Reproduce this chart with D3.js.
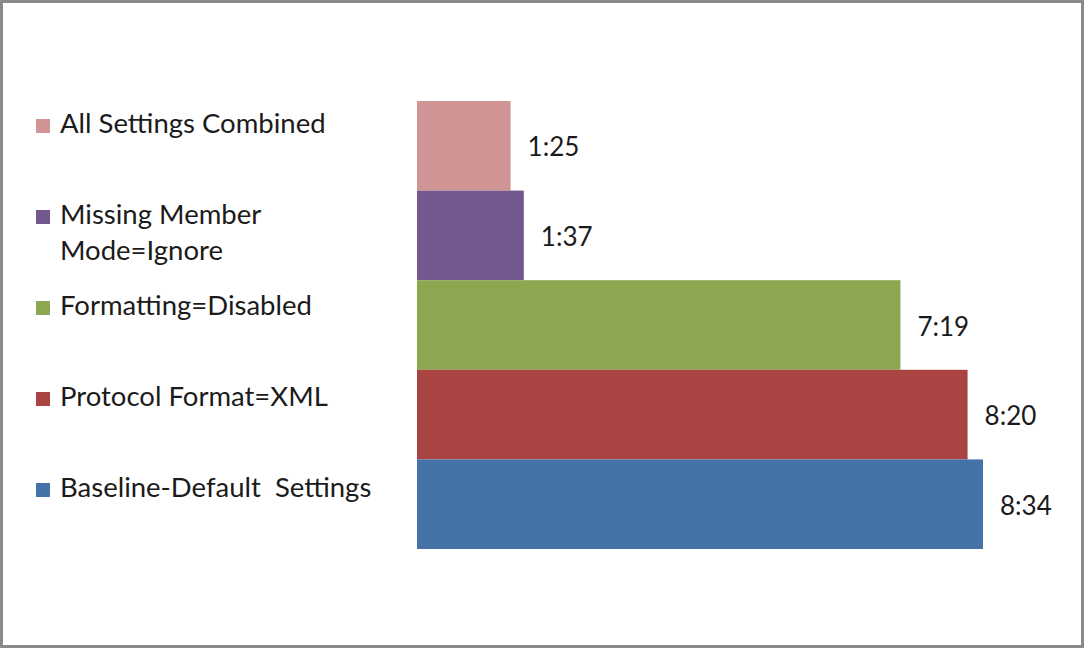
<!DOCTYPE html>
<html>
<head>
<meta charset="utf-8">
<script src="https://cdn.jsdelivr.net/npm/d3@7"></script>
<style>
  html, body { margin: 0; padding: 0; background: #fff; }
  svg { display: block; }
  text { font-family: Lato, "Open Sans", sans-serif; fill: #1b1b1b; white-space: pre; }
</style>
</head>
<body>
<svg id="chart" width="1084" height="648"></svg>
<script>
// Run times for each configuration, top bar first
const categories = [
  "All Settings Combined",
  "Missing Member Mode=Ignore",
  "Formatting=Disabled",
  "Protocol Format=XML",
  "Baseline-Default  Settings"
];
const legendLines = [
  ["All Settings Combined"],
  ["Missing Member", "Mode=Ignore"],
  ["Formatting=Disabled"],
  ["Protocol Format=XML"],
  ["Baseline-Default  Settings"]
];
const timeLabels = ["1:25", "1:37", "7:19", "8:20", "8:34"];
const colors = ["#D19494", "#73588F", "#8BA750", "#A94442", "#4573A8"];

// seconds derived from the m:ss labels
const seconds = timeLabels.map(t => {
  const [m, s] = t.split(":").map(Number);
  return m * 60 + s;
});

const svg = d3.select("#chart");
const W = 1084, H = 648;

// outer frame
svg.append("rect")
  .attr("x", 1.5).attr("y", 1.5)
  .attr("width", W - 3).attr("height", H - 3)
  .attr("fill", "#fff")
  .attr("stroke", "#8a8a8a")
  .attr("stroke-width", 3);

const x = d3.scaleLinear()
  .domain([0, d3.max(seconds)])
  .range([417, 983]);

const y = d3.scaleBand()
  .domain(categories)
  .range([101, 549])
  .padding(0);

const data = categories.map((c, i) => ({ c, v: seconds[i], label: timeLabels[i], color: colors[i] }));

svg.append("g").selectAll("rect")
  .data(data)
  .join("rect")
  .attr("x", x(0))
  .attr("y", d => y(d.c))
  .attr("width", d => x(d.v) - x(0))
  .attr("height", y.bandwidth())
  .attr("fill", d => d.color);

svg.append("g").selectAll("text")
  .data(data)
  .join("text")
  .attr("x", d => x(d.v) + 17)
  .attr("y", d => y(d.c) + y.bandwidth() / 2 + 4)
  .attr("dominant-baseline", "middle")
  .attr("font-size", 26)
  .text(d => d.label);

// legend
const ly = d3.scalePoint()
  .domain(categories)
  .range([126, 490]);

const legend = svg.append("g").selectAll("g")
  .data(data)
  .join("g")
  .attr("transform", d => `translate(0,${ly(d.c)})`);

legend.append("rect")
  .attr("x", 36).attr("y", -7)
  .attr("width", 14).attr("height", 14)
  .attr("fill", d => d.color);

legend.append("text")
  .attr("x", 60)
  .attr("font-size", 27.5)
  .selectAll("tspan")
  .data((d, i) => legendLines[i])
  .join("tspan")
  .attr("x", 60)
  .attr("y", (d, j) => j * 36)
  .attr("dominant-baseline", "middle")
  .text(d => d);
</script>
</body>
</html>
